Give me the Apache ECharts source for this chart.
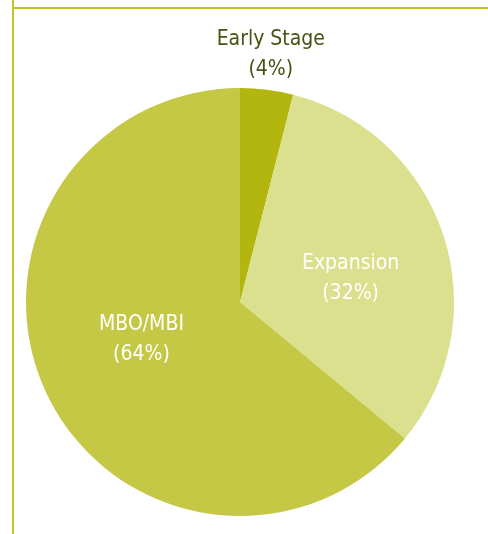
<!DOCTYPE html>
<html>
<head>
<meta charset="utf-8">
<style>
  html, body { margin: 0; padding: 0; background: #ffffff; }
  #chart { width: 488px; height: 534px; }
</style>
<script src="https://cdn.jsdelivr.net/npm/echarts@6/dist/echarts.min.js"></script>
</head>
<body>
<div id="chart"></div>
<script>
// Investment stage breakdown (share of total, %)
const stages = ['Early Stage', 'Expansion', 'MBO/MBI'];
const shares = [4, 32, 64];
const sliceColors = ['#b2b60e', '#dbe08f', '#c4c845'];
// label nudges from the default inside position
const labelOffsets = [[17, -138], [6, 11], [1, -9]];

const FONT = '"DejaVu Sans Condensed", "Liberation Sans Narrow", "Roboto", sans-serif';

const chart = echarts.init(document.getElementById('chart'), null, { renderer: 'canvas' });

const data = stages.map((name, i) => {
  const item = {
    name: name,
    value: shares[i],
    itemStyle: { color: sliceColors[i] },
    label: { offset: labelOffsets[i] }
  };
  if (i === 0) {
    // small slice: label sits above the pie in dark olive
    item.label.color = '#4b5112';
  }
  return item;
});

chart.setOption({
  animation: false,
  graphic: [
    { type: 'line', shape: { x1: 13, y1: 0, x2: 13, y2: 534 }, style: { stroke: '#c2c52c', lineWidth: 2 } },
    { type: 'line', shape: { x1: 13, y1: 8, x2: 488, y2: 8 }, style: { stroke: '#c2c52c', lineWidth: 2 } }
  ],
  series: [{
    type: 'pie',
    center: [240, 302],
    radius: [0, 214],
    startAngle: 90,
    clockwise: true,
    silent: true,
    itemStyle: { borderWidth: 0 },
    label: {
      show: true,
      position: 'inside',
      formatter: '{b}\n({c}%)',
      color: '#ffffff',
      fontFamily: FONT,
      fontSize: 21,
      lineHeight: 30,
      align: 'center'
    },
    labelLine: { show: false },
    data: data
  }]
});
</script>
</body>
</html>
